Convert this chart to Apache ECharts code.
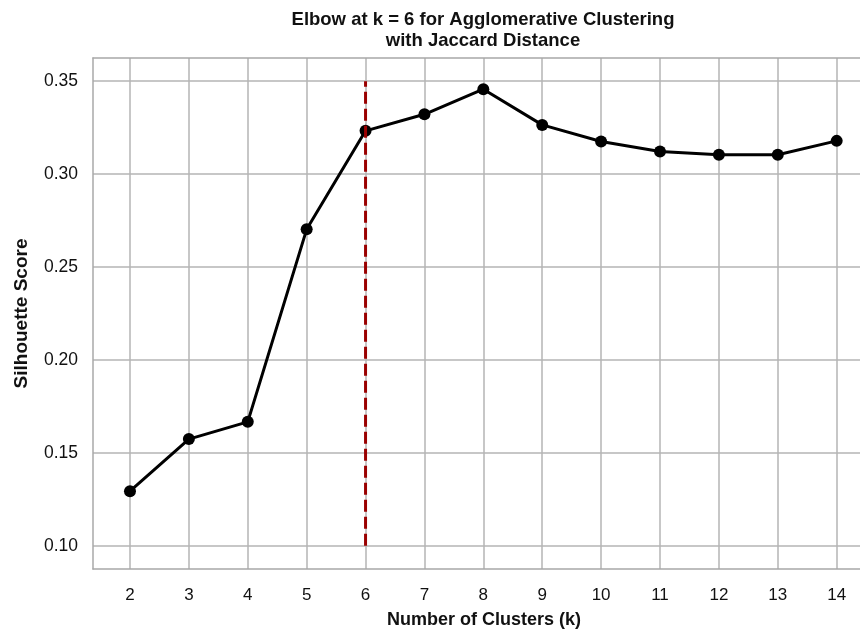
<!DOCTYPE html>
<html>
<head>
<meta charset="utf-8">
<script src="https://cdn.jsdelivr.net/npm/echarts@6/dist/echarts.min.js"></script>
<style>html,body{margin:0;padding:0;background:#fff}#c{width:860px;height:634px}</style>
</head>
<body>
<div id="c"></div>
<script>
const kValues = [2, 3, 4, 5, 6, 7, 8, 9, 10, 11, 12, 13, 14];
const silhouette = [0.1294, 0.1574, 0.1667, 0.2703, 0.3233, 0.3322, 0.3457, 0.3265, 0.3176, 0.3122, 0.3104, 0.3104, 0.3179];
const yTicks = [0.10, 0.15, 0.20, 0.25, 0.30, 0.35];
const xTicks = [2, 3, 4, 5, 6, 7, 8, 9, 10, 11, 12, 13, 14];
const elbowK = 6;
const elbowRange = [0.10, 0.35];
const titleText = 'Elbow at k = 6 for Agglomerative Clustering\nwith Jaccard Distance';

const chart = echarts.init(document.getElementById('c'));
const font = 'Liberation Sans, Arial, sans-serif';
const gridColor = '#b4b4b4';
const borderColor = '#a8a8a8';
const xMin = 1.372, xMax = 14.396;
chart.setOption({
  animation: false,
  backgroundColor: '#fff',
  title: {
    text: titleText,
    left: 478, top: 4, textAlign: 'center',
    textStyle: { fontFamily: font, fontSize: 18.5, fontWeight: 'bold', color: '#111', lineHeight: 21 }
  },
  grid: { left: 93, top: 58, right: 0, height: 517 },
  xAxis: [{
    type: 'value', min: xMin, max: xMax,
    name: 'Number of Clusters (k)', nameLocation: 'middle', nameGap: 42,
    nameTextStyle: { fontFamily: font, fontSize: 18, fontWeight: 'bold', color: '#111', padding: [0, 0, 0, 15] },
    axisLine: { show: true, lineStyle: { color: borderColor, width: 1.5 } },
    axisTick: { show: false, customValues: xTicks },
    axisLabel: { customValues: xTicks, fontFamily: font, fontSize: 17, color: '#111', margin: 18 },
    splitLine: { show: true, lineStyle: { color: gridColor, width: 1.5 } }
  }, {
    type: 'value', min: xMin, max: xMax, position: 'top',
    axisLine: { show: true, lineStyle: { color: borderColor, width: 1.5 } },
    axisTick: { show: false }, axisLabel: { show: false }, splitLine: { show: false }
  }],
  yAxis: {
    type: 'value', min: 0.0875, max: 0.3625,
    name: 'Silhouette Score', nameLocation: 'middle', nameGap: 62,
    nameTextStyle: { fontFamily: font, fontSize: 19, fontWeight: 'bold', color: '#111' },
    axisLine: { show: true, lineStyle: { color: borderColor, width: 1.5 } },
    axisTick: { show: false, customValues: yTicks },
    axisLabel: { customValues: yTicks, fontFamily: font, fontSize: 17.5, color: '#111', margin: 15,
      formatter: v => v.toFixed(2) },
    splitLine: { show: true, lineStyle: { color: gridColor, width: 1.5 } }
  },
  series: [
    {
      type: 'line',
      data: kValues.map((k, i) => [k, silhouette[i]]),
      lineStyle: { color: '#000', width: 3 },
      itemStyle: { color: '#000' },
      symbol: 'circle', symbolSize: 12,
      z: 3
    },
    {
      type: 'line',
      data: elbowRange.map(v => [elbowK, v]),
      symbol: 'none',
      lineStyle: { color: '#9a0000', width: 3, type: [12, 5] },
      z: 4
    }
  ]
});
</script>
</body>
</html>
